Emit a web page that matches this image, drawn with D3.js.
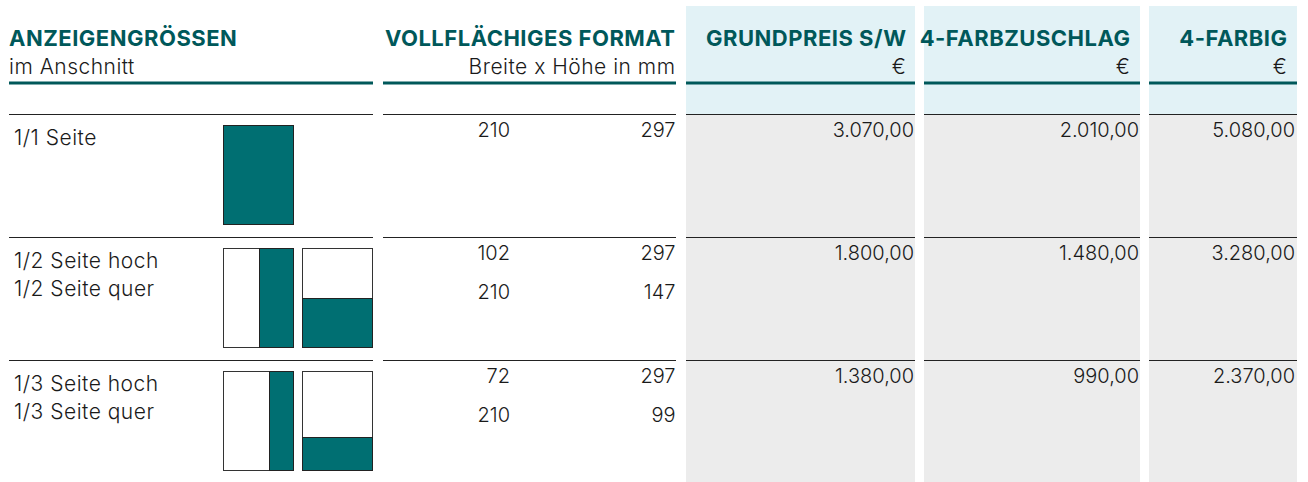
<!DOCTYPE html>
<html>
<head>
<meta charset="utf-8">
<script src="https://cdn.jsdelivr.net/npm/d3@7"></script>
<style>
  html, body { margin: 0; padding: 0; background: #fff; }
  svg { display: block; }
  text { font-family: Inter, Lato, sans-serif; }
</style>
</head>
<body>
<svg id="chart" width="1308" height="482"></svg>
<script>
// ---- data ----
const headers = ["ANZEIGENGRÖSSEN", "VOLLFLÄCHIGES FORMAT", "GRUNDPREIS S/W", "4-FARBZUSCHLAG", "4-FARBIG"];
const subHeaders = ["im Anschnitt", "Breite x Höhe in mm", "€", "€", "€"];
const rowLabels = [["1/1 Seite"], ["1/2 Seite hoch", "1/2 Seite quer"], ["1/3 Seite hoch", "1/3 Seite quer"]];
const formatWidths = [[210], [102, 210], [72, 210]];
const formatHeights = [[297], [297, 147], [297, 99]];
const grundpreis = [3070, 1800, 1380];
const farbzuschlag = [2010, 1480, 990];
const vierfarbig = [5080, 3280, 2370];

// ---- layout ----
const svg = d3.select("#chart");
const W = 1308, H = 482;
const teal = "#00585a";
const iconTeal = "#006f72";
const lightBlue = "#e2f2f6";
const gray = "#ececec";
const lineColor = "#222";
const textColor = "#1a1a1a";

const de = d3.formatLocale({decimal: ",", thousands: ".", grouping: [3], currency: ["", " €"]});
const fmt = de.format(",.2f");

const groups = [
  {x0: 9, x1: 373, anchor: "start", tx: 9},
  {x0: 383, x1: 676, anchor: "end", tx: 675},
  {x0: 686, x1: 915, anchor: "end", tx: 906, px: 914, shaded: true},
  {x0: 924, x1: 1140, anchor: "end", tx: 1130, px: 1139, shaded: true},
  {x0: 1149, x1: 1297, anchor: "end", tx: 1287, px: 1295, shaded: true}
];
const priceSeries = [grundpreis, farbzuschlag, vierfarbig];

const yTop = 6, yThick = 83, yHeadLine = 114;
const rowY = d3.scaleOrdinal().domain([0, 1, 2]).range([114, 237, 360]);

groups.forEach((g, i) => {
  if (!g.shaded) return;
  svg.append("rect").attr("x", g.x0).attr("y", yTop).attr("width", g.x1 - g.x0).attr("height", yHeadLine - yTop).attr("fill", lightBlue);
  svg.append("rect").attr("x", g.x0).attr("y", yHeadLine).attr("width", g.x1 - g.x0).attr("height", H - yHeadLine).attr("fill", gray);
});

function body(sel) {
  return sel.attr("font-size", 21).attr("font-weight", 300).attr("letter-spacing", 0.5).attr("fill", textColor);
}
function num(sel) {
  return sel.attr("font-size", 20).attr("font-weight", 300).attr("fill", textColor);
}

groups.forEach((g, i) => {
  svg.append("text").attr("x", g.tx + (g.anchor === "end" ? 0.5 : 0)).attr("y", 46).attr("text-anchor", g.anchor)
    .attr("font-size", 22).attr("font-weight", 700).attr("letter-spacing", 0.5).attr("fill", teal).text(headers[i]);
  body(svg.append("text")).attr("x", g.tx + (g.anchor === "end" ? 0.5 : 0)).attr("y", 74).attr("text-anchor", g.anchor)
    .text(subHeaders[i]);
  svg.append("rect").attr("x", g.x0).attr("y", yThick - 1.5).attr("width", g.x1 - g.x0).attr("height", 3).attr("fill", teal);
  [0, 1, 2].forEach(r => {
    svg.append("line").attr("x1", g.x0).attr("x2", g.x1)
      .attr("y1", rowY(r) + 0.5).attr("y2", rowY(r) + 0.5)
      .attr("stroke", lineColor).attr("stroke-width", 1.2);
  });
});

const mm = d3.scaleLinear().domain([0, 297]).range([0, 99]);
const iconX = [223, 302];

rowLabels.forEach((labels, r) => {
  const y0 = rowY(r);
  labels.forEach((lab, k) => {
    body(svg.append("text")).attr("x", 14).attr("y", y0 + 31 + k * 28).text(lab);
  });
  formatWidths[r].forEach((w, k) => {
    num(svg.append("text")).attr("x", 510).attr("y", y0 + 23 + k * 39).attr("text-anchor", "end").text(w);
    num(svg.append("text")).attr("x", 675.5).attr("y", y0 + 23 + k * 39).attr("text-anchor", "end").text(formatHeights[r][k]);
  });
  priceSeries.forEach((series, c) => {
    const g = groups[c + 2];
    num(svg.append("text")).attr("x", g.px).attr("y", y0 + 23).attr("text-anchor", "end").text(fmt(series[r]));
  });

  const iy = y0 + 11;
  const pw = mm(210), ph = mm(297);
  formatWidths[r].forEach((w, k) => {
    const ix = iconX[k];
    const h = formatHeights[r][k];
    const gI = svg.append("g");
    gI.append("rect").attr("x", ix + 0.5).attr("y", iy + 0.5).attr("width", pw).attr("height", ph)
      .attr("fill", "#fff").attr("stroke", "#333").attr("stroke-width", 1);
    let rx, ry, rw, rh;
    if (w === 210 && h === 297) { rx = ix; ry = iy; rw = pw; rh = ph; }
    else if (h === 297) { rw = mm(w); rh = ph; rx = ix + pw - rw; ry = iy; }
    else { rw = pw; rh = mm(h); rx = ix; ry = iy + ph - rh; }
    gI.append("rect").attr("x", rx + 0.5).attr("y", ry + 0.5).attr("width", rw).attr("height", rh)
      .attr("fill", iconTeal).attr("stroke", "#222").attr("stroke-width", 1);
  });
});
</script>
</body>
</html>
